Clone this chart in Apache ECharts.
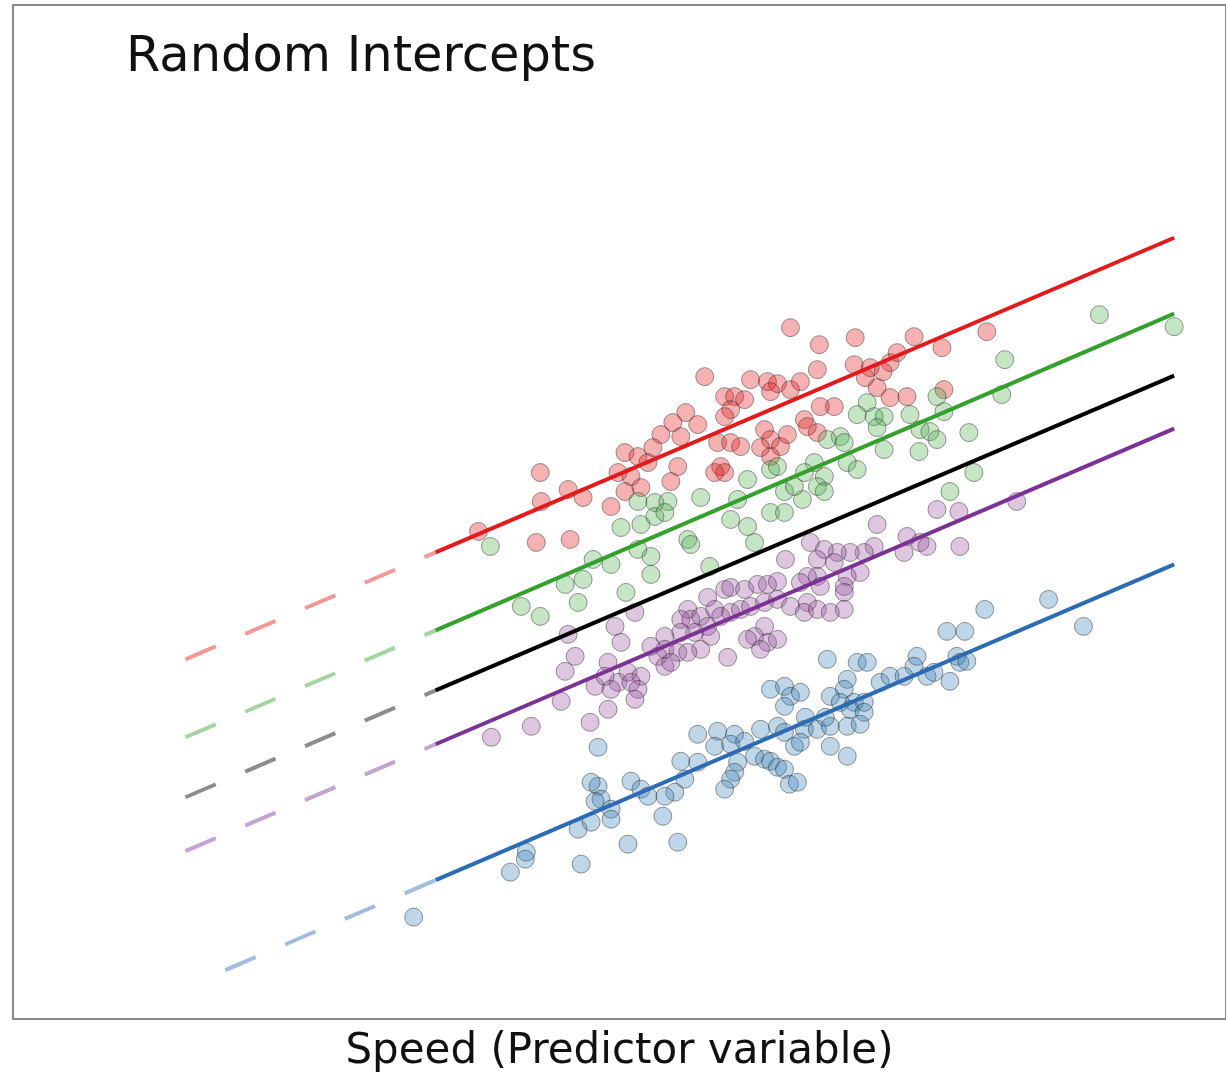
<!DOCTYPE html>
<html>
<head>
<meta charset="utf-8">
<script src="https://cdn.jsdelivr.net/npm/echarts@6/dist/echarts.min.js"></script>
<style>html,body{margin:0;padding:0;background:#fff;overflow:hidden;}#c{width:1226px;height:1078px;}</style>
</head>
<body>
<div id="c"></div>
<script>
// Coordinates in chart units (x: speed scale, y: response scale, inverted)
const titleText = 'Random Intercepts';
const xName = 'Speed (Predictor variable)';

const groups = ['red', 'green', 'black', 'purple', 'blue'];
const lineColors = ['#e31a1c', '#35a02e', '#000000', '#7b3294', '#2d6cb3'];
const pointColors = ['rgba(228,26,28,0.42)', 'rgba(77,175,74,0.40)', null, 'rgba(152,78,163,0.40)', 'rgba(55,126,184,0.40)'];

// fitted lines: solid part and dashed extrapolation
const solidRed = [[437, 553], [1178, 238]];
const solidGreen = [[437, 631], [1178, 314]];
const solidBlack = [[437, 691], [1178, 376]];
const solidPurple = [[437, 745], [1178, 429]];
const solidBlue = [[437, 881], [1178, 565]];

const dashRed = [[186, 660], [437, 553]];
const dashGreen = [[186, 738], [437, 631]];
const dashBlack = [[186, 798], [437, 691]];
const dashPurple = [[186, 852], [437, 745]];
const dashBlue = [[226, 971], [437, 881]];

const redPts = [[793,328],[822,345],[858,338],[917,337],[990,332],[945,348],[707,377],[753,380],[770,382],[780,384],[773,392],[793,390],[727,397],[737,397],[747,400],[688,413],[675,423],[700,425],[663,435],[683,437],[733,410],[727,417],[720,443],[733,443],[743,447],[767,430],[773,440],[763,448],[783,447],[773,457],[790,435],[627,453],[640,457],[650,463],[680,467],[620,473],[633,477],[673,482],[627,492],[643,488],[723,467],[727,473],[717,473],[613,507],[820,370],[857,365],[873,368],[893,363],[900,353],[803,382],[880,388],[893,398],[910,397],[837,407],[823,407],[807,420],[810,427],[820,433],[947,390],[480,532],[538,543],[572,540],[542,473],[543,502],[570,490],[585,498],[655,448],[868,378],[886,372]];

const greenPts = [[1103,315],[1178,327],[1008,360],[1005,395],[940,397],[870,403],[860,415],[877,417],[887,417],[880,428],[913,415],[923,430],[933,432],[940,440],[947,412],[922,452],[972,433],[887,450],[843,437],[847,443],[830,440],[850,463],[860,470],[817,463],[827,477],[807,473],[820,487],[827,492],[805,500],[977,473],[953,492],[640,502],[657,503],[670,502],[703,498],[773,470],[780,467],[750,480],[787,492],[797,487],[740,500],[623,528],[643,525],[690,540],[693,545],[657,517],[667,513],[733,520],[750,527],[773,513],[787,513],[757,543],[653,557],[640,550],[613,565],[653,575],[712,567],[628,593],[492,547],[523,607],[542,617],[567,585],[585,580],[580,603],[595,560]];

const purplePts = [[570,635],[577,657],[567,672],[563,702],[597,687],[493,738],[533,727],[592,723],[788,560],[710,598],[727,590],[733,588],[747,590],[760,585],[770,585],[780,582],[690,610],[683,620],[693,620],[703,617],[717,610],[723,617],[733,613],[743,610],[753,607],[767,603],[780,600],[793,607],[767,627],[757,637],[750,640],[770,643],[780,640],[763,650],[710,627],[697,633],[683,633],[667,637],[713,637],[703,650],[667,650],[680,653],[690,653],[653,647],[660,657],[730,658],[667,667],[673,663],[630,673],[643,677],[620,683],[633,683],[640,690],[610,663],[607,677],[613,690],[623,643],[617,627],[637,700],[610,710],[637,613],[880,525],[940,510],[962,512],[963,547],[910,537],[923,543],[907,553],[930,547],[877,547],[867,553],[853,553],[840,553],[827,550],[813,543],[820,560],[837,563],[863,573],[850,577],[847,587],[847,593],[820,577],[810,577],[803,583],[823,587],[810,603],[807,613],[820,610],[833,613],[847,610],[1020,502]];

const bluePts = [[773,690],[787,687],[793,697],[787,707],[988,610],[950,632],[968,632],[830,660],[860,663],[870,663],[920,657],[917,667],[960,657],[963,663],[970,662],[850,680],[847,690],[883,683],[893,677],[907,677],[930,677],[937,673],[953,682],[803,693],[833,697],[843,703],[857,703],[867,703],[853,710],[867,713],[1052,600],[1087,627],[700,735],[720,732],[737,735],[763,730],[780,727],[787,733],[717,747],[733,745],[747,742],[683,762],[700,763],[740,763],[757,757],[767,760],[773,762],[780,768],[787,770],[737,773],[733,780],[727,790],[687,780],[677,793],[667,797],[633,782],[643,790],[650,797],[600,787],[603,800],[613,810],[613,820],[665,817],[630,845],[680,843],[792,785],[797,747],[807,730],[820,730],[833,727],[850,727],[863,725],[833,747],[850,757],[803,743],[800,783],[593,783],[597,802],[593,823],[580,830],[583,865],[528,853],[527,860],[512,873],[415,918],[600,748],[828,718],[808,718]];

const solids = [solidRed, solidGreen, solidBlack, solidPurple, solidBlue];
const dashes = [dashRed, dashGreen, dashBlack, dashPurple, dashBlue];
const pts = [redPts, greenPts, null, purplePts, bluePts];

const FONT = '"DejaVu Sans", Verdana, sans-serif';
const series = [];
pts.forEach((p, i) => {
  if (!p) return;
  series.push({
    type: 'scatter', name: groups[i] + ' points', data: p, symbolSize: 18, z: 2,
    itemStyle: { color: pointColors[i], borderColor: 'rgba(40,40,40,0.6)', borderWidth: 1 },
    silent: true
  });
});
dashes.forEach((d, i) => {
  series.push({
    type: 'line', name: groups[i] + ' extrapolation', data: d, showSymbol: false, z: 3, silent: true,
    lineStyle: { color: lineColors[i], width: 4, opacity: 0.45, type: [33, 32], cap: 'butt' }
  });
});
solids.forEach((s, i) => {
  series.push({
    type: 'line', name: groups[i] + ' fit', data: s, showSymbol: false, z: 4, silent: true,
    lineStyle: { color: lineColors[i], width: 4 }
  });
});

const chart = echarts.init(document.getElementById('c'), null, { renderer: 'canvas' });
chart.setOption({
  animation: false,
  backgroundColor: '#fff',
  textStyle: { fontFamily: FONT },
  title: {
    text: titleText, left: 121, top: 28,
    textStyle: { fontSize: 49.5, fontWeight: 'normal', color: '#111', fontFamily: FONT }
  },
  grid: { left: 13, right: -10, top: 5, bottom: 53, show: true, borderColor: '#8a8a8a', borderWidth: 2, backgroundColor: 'transparent' },
  xAxis: {
    type: 'value', min: 13, max: 1230,
    axisLine: { show: false }, axisTick: { show: false }, axisLabel: { show: false }, splitLine: { show: false },
    name: xName, nameLocation: 'middle', nameGap: 12,
    nameTextStyle: { fontSize: 42, color: '#111', verticalAlign: 'top', fontFamily: FONT }
  },
  yAxis: {
    type: 'value', min: 5, max: 1020, inverse: true,
    axisLine: { show: false }, axisTick: { show: false }, axisLabel: { show: false }, splitLine: { show: false }
  },
  series: series
});
</script>
</body>
</html>
